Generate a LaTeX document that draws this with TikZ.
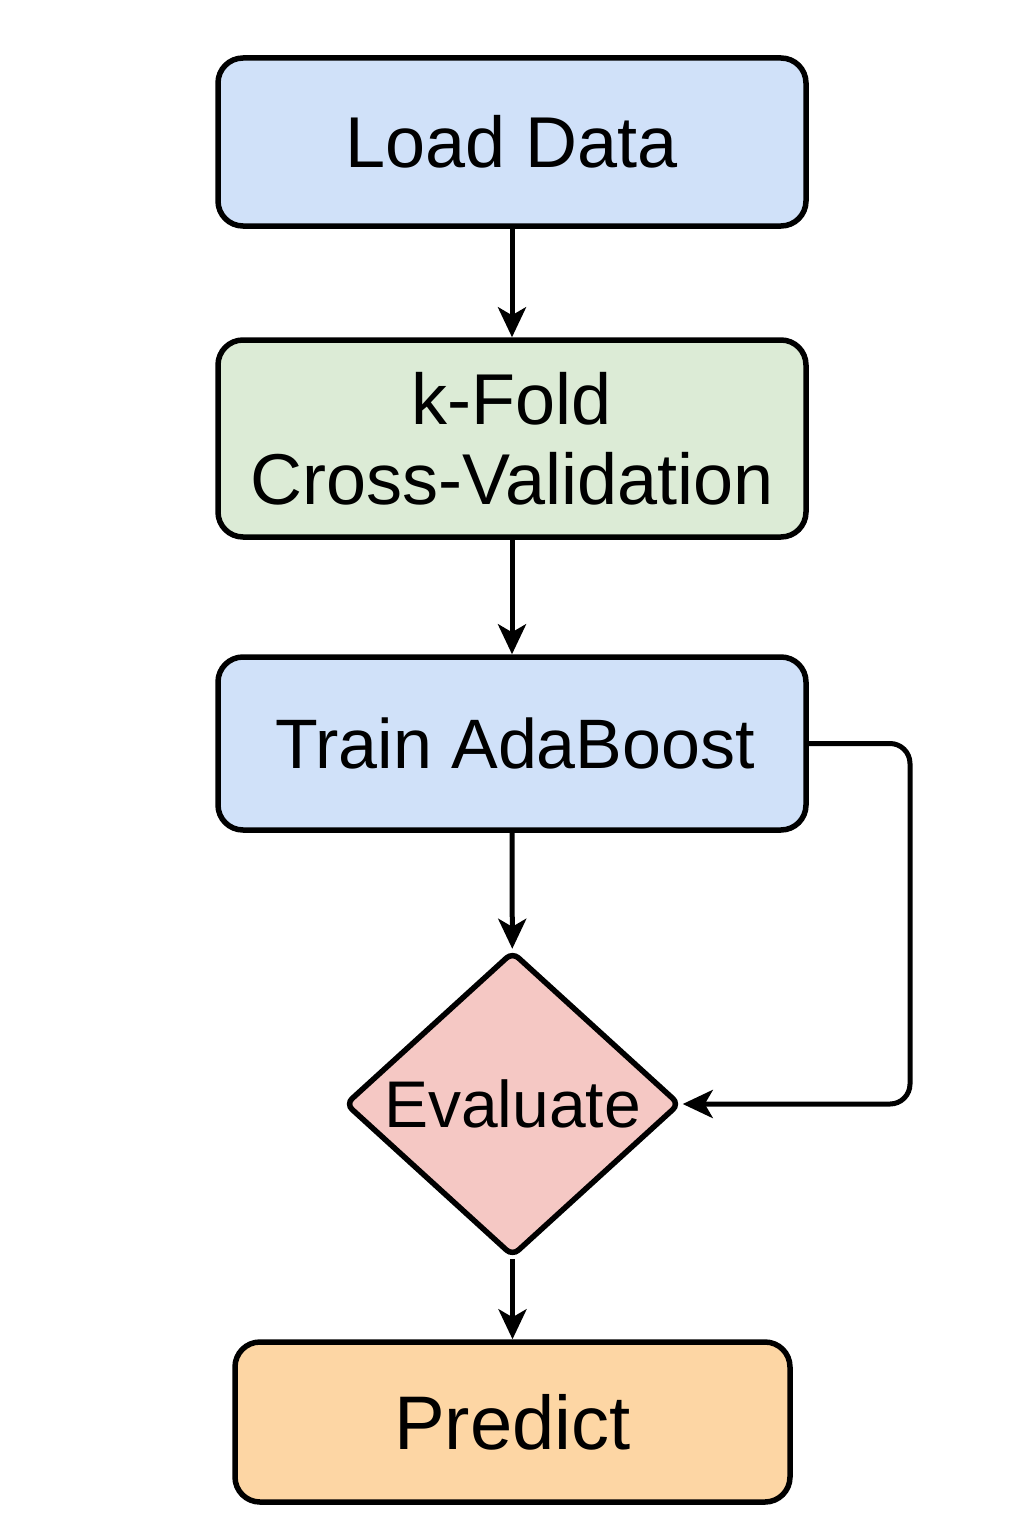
\documentclass[tikz,border=0pt]{standalone}
\usepackage{fontspec}
\setmainfont{Liberation Sans}
\usetikzlibrary{shapes.geometric,arrows.meta}
\definecolor{cblue}{HTML}{D0E1F9}
\definecolor{cgreen}{HTML}{DCEBD6}
\definecolor{cpink}{HTML}{F5C8C4}
\definecolor{corange}{HTML}{FDD6A4}
\tikzset{
  stepbox/.style={draw=black, line width=5.5pt, rounded corners=25pt, inner sep=0pt,
    font=\fontsize{72}{80}\selectfont, align=center},
  decbox/.style={draw=black, line width=5.5pt, diamond, rounded corners=8pt, inner sep=0pt,
    minimum width=335pt, minimum height=298pt, font=\fontsize{66}{70}\selectfont},
  conn/.style={line width=5pt, -{Stealth[length=30pt,width=28pt,inset=8pt]}},
}
\begin{document}
\begin{tikzpicture}[x=1pt,y=-1pt]
\useasboundingbox (0,0) rectangle (1024,1536);
\node[stepbox, fill=cblue, minimum width=588pt, minimum height=168pt] (load) at (512,142) {Load Data};
\node[stepbox, fill=cgreen, minimum width=588pt, minimum height=197pt] (kfold) at (512,438.5) {k-Fold\\Cross-Validation};
\node[stepbox, fill=cblue, minimum width=588pt, minimum height=173pt, font=\fontsize{70}{80}\selectfont] (train) at (512,743.5) {\hspace*{6pt}Train AdaBoost};
\node[decbox, fill=cpink] (eval) at (512.5,1104) {\raisebox{-4pt}{Evaluate}};
\node[stepbox, fill=corange, minimum width=555pt, minimum height=160pt, font=\fontsize{76}{80}\selectfont] (pred) at (512.5,1422) {Predict};
\coordinate (c1) at (910,743.5);
\coordinate (c2) at (910,1104);
\draw[conn] (load) -- (kfold);
\draw[conn] (kfold) -- (train);
\draw[conn] (train) -- (eval);
\draw[conn] (eval) -- (pred);
\draw[conn, rounded corners=20pt] (train.east) -- (c1) -- (c2) -- (eval.east);
\end{tikzpicture}
\end{document}
